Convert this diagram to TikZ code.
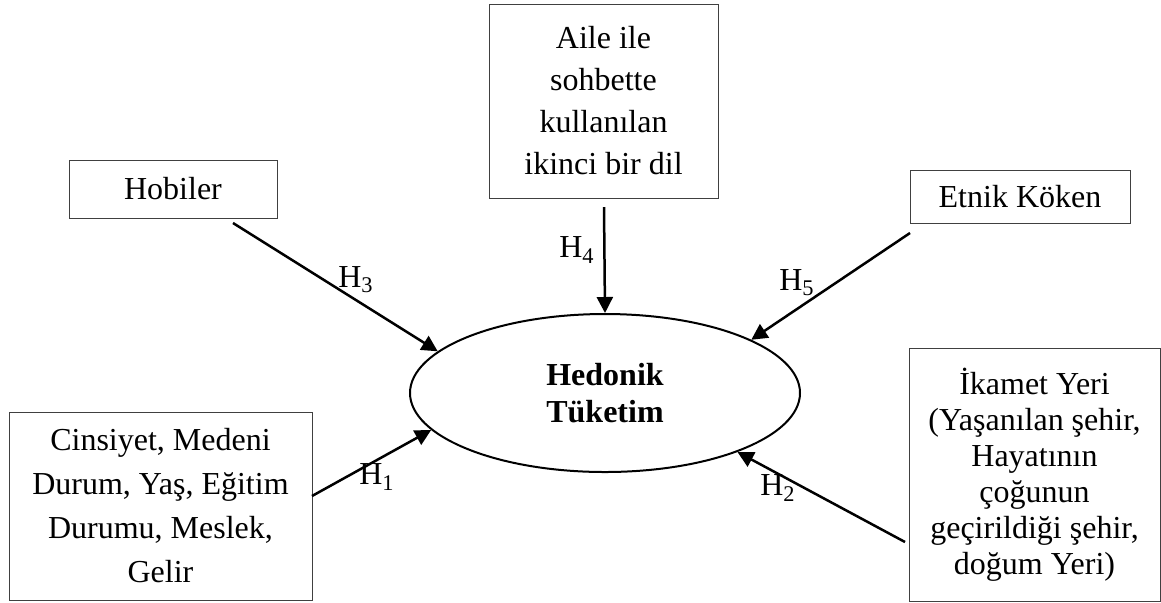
\documentclass[tikz,border=0pt]{standalone}
\usepackage{fontspec}
\setmainfont{Liberation Serif}
\usetikzlibrary{arrows.meta,shapes.geometric}
\begin{document}
\begin{tikzpicture}[x=0.5pt,y=-0.5pt,
  box/.style={draw=black!75,line width=0.5pt,rectangle,inner sep=0pt,align=center,
    font=\fontsize{16}{18}\selectfont},
  hyp/.style={inner sep=0pt,font=\fontsize{16}{18}\selectfont},
  conn/.style={line width=1.25pt,-{Triangle[length=8pt,width=8pt]}}]
\useasboundingbox (0,0) rectangle (1161,602);
\node[draw,ellipse,line width=1pt,minimum width=195pt,minimum height=79pt,inner sep=0pt,
  align=center,font=\fontsize{16}{18.5}\selectfont\bfseries] (hed) at (605,393) {Hedonik\\Tüketim};
\node[box,minimum width=114.5pt,minimum height=97pt,font=\fontsize{16}{21}\selectfont] (aile) at (603.5,101)
  {Aile ile\\sohbette\\kullanılan\\ikinci bir dil};
\node[box,minimum width=104pt,minimum height=29pt] (hob) at (173,189) {Hobiler};
\node[box,minimum width=110pt,minimum height=26.5pt] (etn) at (1020,196.5) {Etnik Köken};
\node[box,minimum width=151.5pt,minimum height=94pt,font=\fontsize{16}{22}\selectfont] (cins) at (160.5,506)
  {Cinsiyet, Medeni\\Durum, Yaş, Eğitim\\Durumu, Meslek,\\Gelir};
\node[box,minimum width=125.5pt,minimum height=126.5pt] (ika) at (1034.5,474.5)
  {İkamet Yeri\\(Yaşanılan şehir,\\Hayatının\\çoğunun\\geçirildiği şehir,\\doğum Yeri)};
\coordinate (s3) at (233,223);
\coordinate (s4) at (604,207);
\coordinate (s5) at (910,233);
\coordinate (s1) at (312,496);
\coordinate (s2) at (905,542);
\draw[conn] (s3) -- (hed.166.4);
\draw[conn] (s4) -- (hed.90);
\draw[conn] (s5) -- (hed.20.3);
\draw[conn] (s1) -- (hed.192);
\draw[conn] (s2) -- (hed.-24.8);
\node[hyp] (h3) at (356,280) {H\textsubscript{3}};
\node[hyp] (h4) at (577,250) {H\textsubscript{4}};
\node[hyp] (h5) at (797,283) {H\textsubscript{5}};
\node[hyp] (h1) at (377,477) {H\textsubscript{1}};
\node[hyp] (h2) at (778,488) {H\textsubscript{2}};
\end{tikzpicture}
\end{document}
